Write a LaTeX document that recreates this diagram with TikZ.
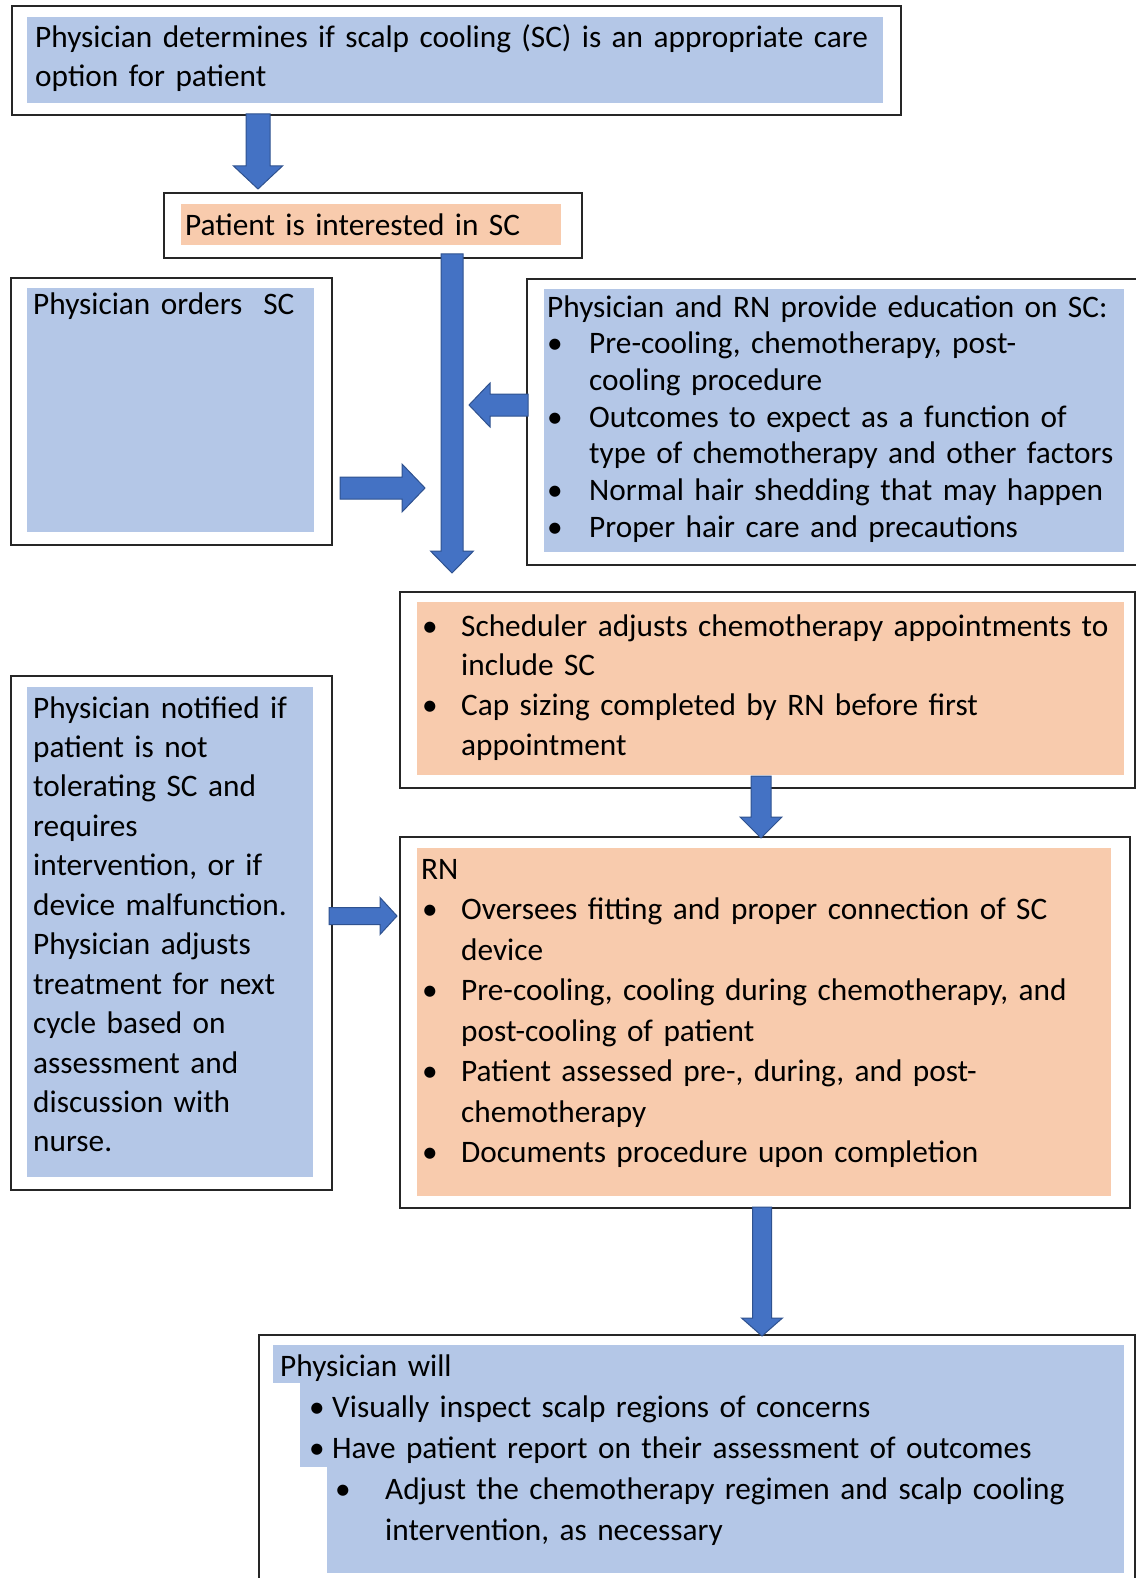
\documentclass[tikz,border=0pt]{standalone}
\usepackage{fontspec}
\setmainfont{Carlito}
\definecolor{fblue}{HTML}{B4C7E7}
\definecolor{forange}{HTML}{F8CBAD}
\definecolor{ablue}{HTML}{4472C4}
\definecolor{aedge}{HTML}{2F528F}
\newcommand\fs[1]{\fontsize{31.3}{#1}\selectfont}
\newcommand\bl[2]{\hspace*{#1}\makebox[#2][l]{\textbullet}}
\newcommand\downblk[6]{% x, y1, ytip, shaft half, head half, head length
  \draw[blockarrow] ({#1-#4},#2) -- ({#1+#4},#2) -- ({#1+#4},{#3-#6}) -- ({#1+#5},{#3-#6}) -- (#1,#3) -- ({#1-#5},{#3-#6}) -- ({#1-#4},{#3-#6}) -- cycle;}
\newcommand\rightblk[6]{% y, x1, xtip, shaft half, head half, head length
  \draw[blockarrow] (#2,{#1-#4}) -- ({#3-#6},{#1-#4}) -- ({#3-#6},{#1-#5}) -- (#3,#1) -- ({#3-#6},{#1+#5}) -- ({#3-#6},{#1+#4}) -- (#2,{#1+#4}) -- cycle;}
\newcommand\leftblk[6]{% y, x1, xtip, shaft half, head half, head length
  \draw[blockarrow] (#2,{#1-#4}) -- ({#3+#6},{#1-#4}) -- ({#3+#6},{#1-#5}) -- (#3,#1) -- ({#3+#6},{#1+#5}) -- ({#3+#6},{#1+#4}) -- (#2,{#1+#4}) -- cycle;}
\tikzset{
  outerbox/.style={draw=black!85, line width=1.6pt, fill=white, anchor=north west, inner sep=0pt},
  txt/.style={anchor=base west, inner sep=0pt, align=left, text width=#1},
  blockarrow/.style={fill=ablue, draw=aedge, line width=1pt, line join=miter},
}
\begin{document}
\begin{tikzpicture}[x=1pt,y=-1pt]
\useasboundingbox (0,0) rectangle (1135,1578);
% outer boxes
\node[outerbox, minimum width=889pt, minimum height=109pt] (b1) at (11,5) {};
\node[outerbox, minimum width=418pt, minimum height=65pt] (b2) at (163,192) {};
\node[outerbox, minimum width=321pt, minimum height=267pt] (b3) at (10,277) {};
\node[outerbox, minimum width=610pt, minimum height=286pt] (b4) at (526,278) {};
\node[outerbox, minimum width=735pt, minimum height=196pt] (b5) at (399,591) {};
\node[outerbox, minimum width=730pt, minimum height=371pt] (b6) at (399,836) {};
\node[outerbox, minimum width=321pt, minimum height=514pt] (b7) at (10,675) {};
\node[outerbox, minimum width=876pt, minimum height=260pt] (b8) at (258,1334) {};
% shading
\fill[fblue] (27,17) rectangle (883,103);
\fill[forange] (181,204) rectangle (561,245);
\fill[fblue] (27,288) rectangle (314,532);
\fill[fblue] (544,289) rectangle (1124,552);
\fill[forange] (417,602) rectangle (1124,775);
\fill[forange] (417,848) rectangle (1111,1196);
\fill[fblue] (27,687) rectangle (313,1177);
\fill[fblue] (273,1345) rectangle (1124,1383);
\fill[fblue] (300,1383) rectangle (1124,1467);
\fill[fblue] (327,1467) rectangle (1124,1573);
% texts
\node[txt=860pt, font=\fs{39}] (t1) at (35,48) {Physician determines if scalp cooling (SC) is an appropriate care\\option for patient};
\node[txt=380pt, font=\fs{39}] (t2) at (185,236) {Patient is interested in SC};
\node[txt=290pt, font=\fs{39}] (t3) at (33,315) {Physician orders\ \ SC};
\node[txt=590pt, font=\fs{36.7}] (t4) at (547,317) {Physician and RN provide education on SC:\\\bl{0pt}{42pt}Pre-cooling, chemotherapy, post-\\\hspace*{42pt}cooling procedure\\\bl{0pt}{42pt}Outcomes to expect as a function of\\\hspace*{42pt}type of chemotherapy and other factors\\\bl{0pt}{42pt}Normal hair shedding that may happen\\\bl{0pt}{42pt}Proper hair care and precautions};
\node[txt=710pt, font=\fs{39.7}] (t5) at (422,636) {\bl{0pt}{39pt}Scheduler adjusts chemotherapy appointments to\\\hspace*{39pt}include SC\\\bl{0pt}{39pt}Cap sizing completed by RN before first\\\hspace*{39pt}appointment};
\node[txt=700pt, font=\fs{40.5}] (t6) at (421,879) {RN\\\bl{1pt}{39pt}Oversees fitting and proper connection of SC\\\hspace*{40pt}device\\\bl{1pt}{39pt}Pre-cooling, cooling during chemotherapy, and\\\hspace*{40pt}post-cooling of patient\\\bl{1pt}{39pt}Patient assessed pre-, during, and post-\\\hspace*{40pt}chemotherapy\\\bl{1pt}{39pt}Documents procedure upon completion};
\node[txt=290pt, font=\fs{39.45}] (t7) at (33,718) {Physician notified if\\patient is not\\tolerating SC and\\requires\\intervention, or if\\device malfunction.\\Physician adjusts\\treatment for next\\cycle based on\\assessment and\\discussion with\\nurse.};
\node[txt=850pt, font=\fs{41}] (t8) at (280,1376) {Physician will\\\bl{29pt}{23pt}Visually inspect scalp regions of concerns\\\bl{29pt}{23pt}Have patient report on their assessment of outcomes\\\bl{55pt}{50pt}Adjust the chemotherapy regimen and scalp cooling\\\hspace*{105pt}intervention, as necessary};
% block arrows
\downblk{258}{114}{189}{12}{24.5}{23}
\downblk{452}{254}{573}{11}{21.5}{22}
\rightblk{488}{340}{425}{11}{24}{23}
\leftblk{405}{528}{469}{11}{22}{21}
\downblk{761}{776}{838}{10}{21}{21}
\rightblk{916}{329}{397}{8.5}{18.5}{17}
\downblk{762}{1207}{1336}{9.5}{20.5}{18}
\end{tikzpicture}
\end{document}
